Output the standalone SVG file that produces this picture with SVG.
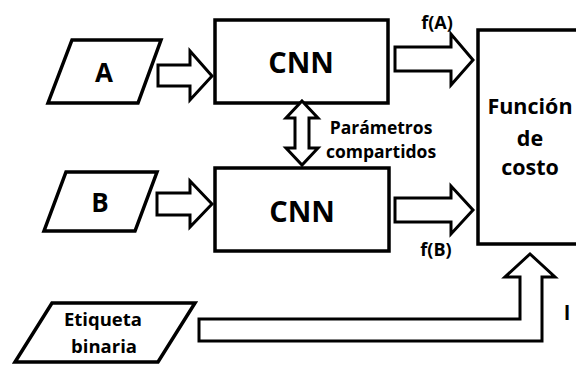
<svg xmlns="http://www.w3.org/2000/svg" width="576" height="365" viewBox="0 0 576 365">
<style>
.s{fill:#fff;stroke:#000;stroke-width:3.5;stroke-linejoin:miter}
.a{fill:#fff;stroke:#000;stroke-width:3;stroke-linejoin:miter}
text{font-family:"Open Sans","Noto Sans","Liberation Sans",sans-serif;font-weight:700;fill:#000;text-anchor:middle}
</style>
<rect width="576" height="365" fill="#fff"/>
<g id="nodeA"><polygon class="s" points="72,40 161,40 138,103 48,103"/><text x="104" y="82" font-size="26">A</text></g>
<g id="nodeB"><polygon class="s" points="66,172 157,172 135,231 44,231"/><text x="100" y="212" font-size="26">B</text></g>
<g id="cnn1"><rect class="s" x="215" y="20" width="173" height="83"/><text x="301" y="73" font-size="29">CNN</text></g>
<g id="cnn2"><rect class="s" x="215" y="168" width="174" height="83"/><text x="302" y="222" font-size="29">CNN</text></g>
<g id="cost"><rect class="s" x="478" y="30" width="120" height="214"/><text x="530" y="114" font-size="21.5">Función</text><text x="530" y="146" font-size="21.5">de</text><text x="530" y="175" font-size="21.5">costo</text></g>
<g id="label"><polygon class="s" points="52,303 195,303 158,362 15,362"/><text x="103" y="326" font-size="18.5">Etiqueta</text><text x="104" y="353" font-size="18.5">binaria</text></g>
<g id="connectors">
<polygon class="a" points="158,65 190,65 190,51 212,76 190,100 190,86 158,86"/>
<polygon class="a" points="157,193 190,193 190,181 212,204 190,227 190,215 157,215"/>
<polygon class="a" points="395,47 451,47 451,34 473,60 451,85 451,71 395,71"/>
<polygon class="a" points="395,198 451,198 451,186 473,210 451,234 451,222 395,222"/>
<polygon class="a" points="302,101 318,118 309,118 309,148 318,148 302,165 286,148 295,148 295,118 286,118"/>
<polygon class="a" points="199,319 520,319 520,277 505,277 530,254 555,277 542,277 542,341 199,341"/>
<text x="437" y="29" font-size="18">f(A)</text>
<text x="436" y="256" font-size="18">f(B)</text>
<text x="381" y="134" font-size="17.5">Parámetros</text>
<text x="381" y="158" font-size="17.5">compartidos</text>
<text x="567" y="320" font-size="20">l</text>
</g>
</svg>
